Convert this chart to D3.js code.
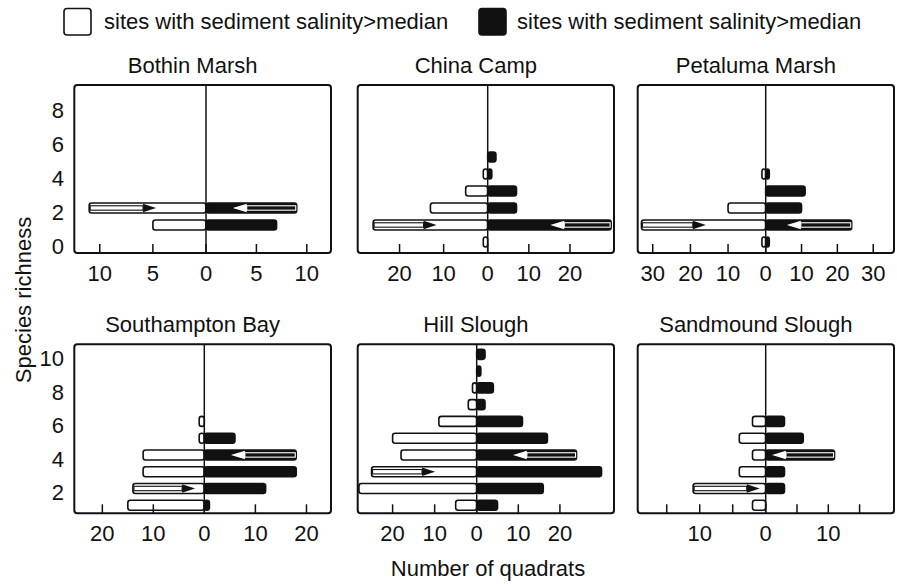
<!DOCTYPE html>
<html>
<head>
<meta charset="utf-8">
<script src="https://cdn.jsdelivr.net/npm/d3@7/dist/d3.min.js"></script>
<style>
  html, body { margin: 0; padding: 0; background: #fff; }
  svg { display: block; }
</style>
</head>
<body>
<svg id="chart" width="897" height="584"></svg>
<script>
// ---------------- DATA ----------------
const panelNames = ["Bothin Marsh", "China Camp", "Petaluma Marsh",
                    "Southampton Bay", "Hill Slough", "Sandmound Slough"];
const legendLabels = ["sites with sediment salinity>median", "sites with sediment salinity>median"];
const xAxisTitle = "Number of quadrats";
const yAxisTitle = "Species richness";

// species richness levels per panel
const richness = [
  [1, 2],
  [0, 1, 2, 3, 4, 5],
  [0, 1, 2, 3, 4],
  [1, 2, 3, 4, 5, 6],
  [1, 2, 3, 4, 5, 6, 7, 8, 9, 10],
  [1, 2, 3, 4, 5, 6]
];
// white bars (left side)
const lowSalinity = [
  [5, 11],
  [1, 26, 13, 5, 1, 0],
  [1, 33, 10, 0, 1],
  [15, 14, 12, 12, 1, 1],
  [5, 28, 25, 18, 20, 9, 2, 1, 0, 0],
  [2, 11, 4, 2, 4, 2]
];
// black bars (right side)
const highSalinity = [
  [7, 9],
  [0, 30, 7, 7, 1, 2],
  [1, 24, 10, 11, 1],
  [1, 12, 18, 18, 6, 0],
  [5, 16, 30, 24, 17, 11, 2, 4, 1, 2],
  [0, 3, 3, 11, 6, 3]
];
// arrows: richness level and tip value
const arrowLowLevel  = [2, 1, 1, 2, 3, 2];
const arrowLowTip    = [4.7, 11.6, 15.9, 1.8, 9.9, 0.9];
const arrowHighLevel = [2, 1, 1, 4, 4, 4];
const arrowHighTip   = [2.65, 15.2, 5.9, 5.2, 8.7, 1.0];

// axes
const xTicks = [
  [-10, -5, 0, 5, 10],
  [-20, -10, 0, 10, 20],
  [-30, -20, -10, 0, 10, 20, 30],
  [-20, -10, 0, 10, 20],
  [-20, -10, 0, 10, 20],
  [-15, -10, -5, 0, 5, 10, 15]
];
const xTickLabels = [
  ["10", "5", "0", "5", "10"],
  ["20", "10", "0", "10", "20"],
  ["30", "20", "10", "0", "10", "20", "30"],
  ["20", "10", "0", "10", "20"],
  ["20", "10", "0", "10", "20"],
  ["", "10", "", "0", "", "10", ""]
];
const xLimits = [[-12.4, 12.4], [-29.5, 30.7], [-34, 35.8], [-25.5, 24.8], [-28.3, 33], [-19.4, 20.5]];
const yTicksRow = [[0, 2, 4, 6, 8], [2, 4, 6, 8, 10]];
const yTickLabelsRow = [["0", "2", "4", "6", "8"], ["2", "4", "6", "8", "10"]];
const yLimitsRow = [[-0.65, 9.24], [0.52, 10.6]];

// ---------------- LAYOUT ----------------
const FONT = "'Liberation Sans', Arial, Helvetica, sans-serif";
const FS = 22;
const INK = "#111";
const colX0 = [74.3, 357.7, 637.7];
const colX1 = [331, 614, 894];
const zeroPx = [206, 487.7, 765.7, 204.3, 476.7, 765.7];
const rowY0 = [85, 344.3];
const rowY1 = [253, 513.3];
const barH = 10;

const svg = d3.select("#chart");

// legend
const legend = svg.append("g");
const legBoxX = [64, 479];
const legTextX = [104, 517];
const legFill = ["#fff", INK];
legendLabels.forEach((lab, i) => {
  legend.append("rect")
    .attr("x", legBoxX[i]).attr("y", 8.5).attr("width", 27).attr("height", 26.5)
    .attr("rx", 3).attr("fill", legFill[i]).attr("stroke", INK).attr("stroke-width", 1.6);
  legend.append("text")
    .attr("x", legTextX[i]).attr("y", 28.5)
    .attr("font-family", FONT).attr("font-size", FS).attr("fill", INK)
    .text(lab);
});

panelNames.forEach((name, p) => {
  const row = Math.floor(p / 3), col = p % 3;
  const x0 = colX0[col], x1 = colX1[col], y0 = rowY0[row], y1 = rowY1[row];
  const x = d3.scaleLinear()
    .domain([xLimits[p][0], 0, xLimits[p][1]])
    .range([x0, zeroPx[p], x1]);
  const y = d3.scaleLinear().domain(yLimitsRow[row]).range([y1, y0]);
  const g = svg.append("g");

  // title
  g.append("text")
    .attr("x", (x0 + x1) / 2 - 10).attr("y", row === 0 ? 73 : 332)
    .attr("text-anchor", "middle")
    .attr("font-family", FONT).attr("font-size", FS).attr("fill", INK)
    .text(name);

  // bars
  const rows = richness[p].map((r, i) => ({ r, lo: lowSalinity[p][i], hi: highSalinity[p][i] }));
  g.selectAll("rect.lo").data(rows.filter(d => d.lo > 0)).join("rect")
    .attr("class", "lo")
    .attr("x", d => x(-d.lo)).attr("width", d => x(0) - x(-d.lo))
    .attr("y", d => y(d.r) - barH / 2).attr("height", barH)
    .attr("rx", 2.5)
    .attr("fill", "#fff").attr("stroke", INK).attr("stroke-width", 1.6);
  g.selectAll("rect.hi").data(rows.filter(d => d.hi > 0)).join("rect")
    .attr("class", "hi")
    .attr("x", x(0)).attr("width", d => x(d.hi) - x(0))
    .attr("y", d => y(d.r) - barH / 2).attr("height", barH)
    .attr("rx", 2.5)
    .attr("fill", INK).attr("stroke", INK).attr("stroke-width", 1.6);

  // arrows
  const headLen = 13, headHalf = 4.3, shaftH = 4.4;
  // low salinity arrow (on white bar, pointing right)
  {
    const iL = richness[p].indexOf(arrowLowLevel[p]);
    const start = x(-lowSalinity[p][iL]) + 1;
    const tip = x(-arrowLowTip[p]);
    const base = tip - headLen;
    const cy = y(arrowLowLevel[p]);
    g.append("rect")
      .attr("x", start).attr("y", cy - shaftH / 2)
      .attr("width", Math.max(0, base - start)).attr("height", shaftH)
      .attr("fill", "#fff").attr("stroke", INK).attr("stroke-width", 1.1);
    g.append("path")
      .attr("d", `M${base},${cy - headHalf}L${tip},${cy}L${base},${cy + headHalf}Z`)
      .attr("fill", INK);
  }
  // high salinity arrow (on black bar, pointing left)
  {
    const iH = richness[p].indexOf(arrowHighLevel[p]);
    const start = x(highSalinity[p][iH]) - 1;
    const tip = x(arrowHighTip[p]);
    const base = tip + headLen + 1;
    const cy = y(arrowHighLevel[p]);
    g.append("rect")
      .attr("x", base).attr("y", cy - shaftH / 2)
      .attr("width", Math.max(0, start - base)).attr("height", shaftH)
      .attr("fill", INK).attr("stroke", "#fff").attr("stroke-width", 1.1);
    g.append("path")
      .attr("d", `M${base},${cy - headHalf}L${tip},${cy}L${base},${cy + headHalf}Z`)
      .attr("fill", "#fff");
  }

  // zero line
  g.append("line")
    .attr("x1", x(0)).attr("x2", x(0)).attr("y1", y0).attr("y2", y1)
    .attr("stroke", INK).attr("stroke-width", 1.5);

  // x ticks (inward) and labels
  g.selectAll("line.xt").data(xTicks[p]).join("line")
    .attr("class", "xt")
    .attr("x1", d => x(d)).attr("x2", d => x(d))
    .attr("y1", y1).attr("y2", y1 - 9)
    .attr("stroke", INK).attr("stroke-width", 1.5);
  g.selectAll("text.xl").data(xTicks[p]).join("text")
    .attr("class", "xl")
    .attr("x", d => x(d)).attr("y", row === 0 ? 280.5 : 541)
    .attr("text-anchor", "middle")
    .attr("font-family", FONT).attr("font-size", FS).attr("fill", INK)
    .text((d, i) => xTickLabels[p][i]);

  // y tick labels (left column only)
  if (col === 0) {
    g.selectAll("text.yl").data(yTicksRow[row]).join("text")
      .attr("class", "yl")
      .attr("x", 64).attr("y", d => y(d) + 12)
      .attr("text-anchor", "end")
      .attr("font-family", FONT).attr("font-size", FS).attr("fill", INK)
      .text((d, i) => yTickLabelsRow[row][i]);
  }

  // frame
  g.append("rect")
    .attr("x", x0).attr("y", y0).attr("width", x1 - x0).attr("height", y1 - y0)
    .attr("rx", 3).attr("fill", "none").attr("stroke", INK).attr("stroke-width", 2);
});

// axis titles
svg.append("text")
  .attr("x", 488).attr("y", 576).attr("text-anchor", "middle")
  .attr("font-family", FONT).attr("font-size", FS).attr("fill", INK)
  .text(xAxisTitle);
svg.append("text")
  .attr("transform", "translate(31,300) rotate(-90)")
  .attr("text-anchor", "middle")
  .attr("font-family", FONT).attr("font-size", FS).attr("fill", INK)
  .text(yAxisTitle);
</script>
</body>
</html>
